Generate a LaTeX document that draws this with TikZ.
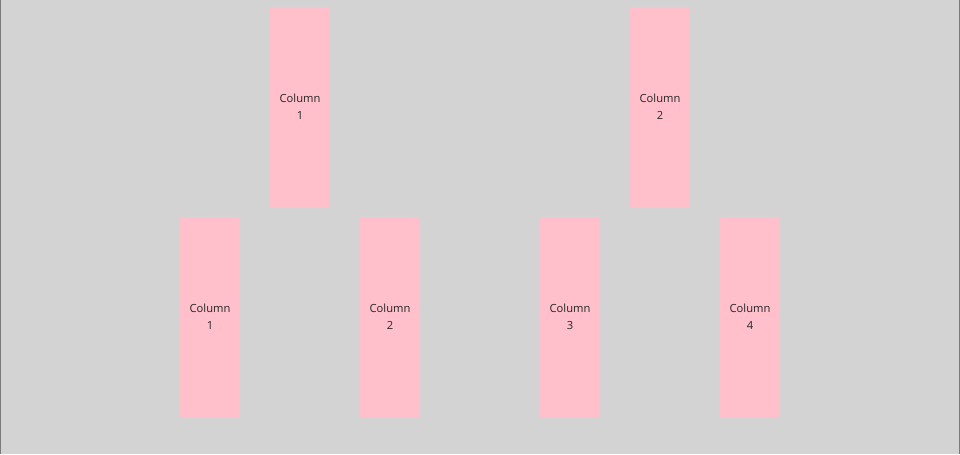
\documentclass[tikz,border=0pt]{standalone}
\usepackage{fontspec}
\setmainfont{Open Sans}
\usepackage{xcolor}
\usetikzlibrary{positioning}
\definecolor{bggray}{HTML}{D3D3D3}
\definecolor{edgegray}{HTML}{7A7A7A}
\definecolor{colpink}{HTML}{FFC0CB}
\definecolor{coltext}{HTML}{262626}
\tikzstyle{column} = [rectangle, minimum width=45pt, minimum height=150pt, inner sep=0pt, outer sep=0pt,
                      text centered, fill=colpink, text=coltext, font=\fontsize{8.4}{12.75}\selectfont]

\begin{document}
\begin{tikzpicture}[every node/.style={align=center}]
    % canvas
    \fill[bggray] (0,0) rectangle (720pt,-340.5pt);
    \useasboundingbox (0,0) rectangle (720pt,-340.5pt);
    \draw[edgegray, line width=0.75pt] (0.375pt,0) -- (0.375pt,-340.5pt);
    \draw[edgegray, line width=0.75pt] (719.625pt,0) -- (719.625pt,-340.5pt);

    \node (top1) [column] at (225pt,-80.25pt) {Column\\1};
    \node (top2) [column] at (495pt,-80.25pt) {Column\\2};

    \node (sub1) [column, below left=7.5pt and 22.5pt of top1] {Column\\1};
    \node (sub2) [column, below right=7.5pt and 22.5pt of top1] {Column\\2};
    \node (sub3) [column, below left=7.5pt and 22.5pt of top2] {Column\\3};
    \node (sub4) [column, below right=7.5pt and 22.5pt of top2] {Column\\4};
\end{tikzpicture}
\end{document}
